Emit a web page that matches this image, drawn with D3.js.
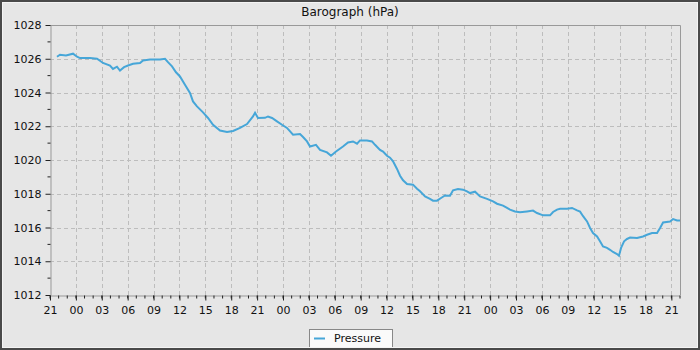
<!DOCTYPE html>
<html><head><meta charset="utf-8">
<script src="https://cdn.jsdelivr.net/npm/d3@7"></script>
<style>html,body{margin:0;padding:0;background:#fff}svg{display:block}</style>
</head><body>
<script>
// Data: hours since the first tick (21:00 of day 0) and pressure in hPa
const startTime = new Date(2024, 0, 1, 21, 0, 0);
const spanHours = 73;
const hoursFromStart = [0.81,1.16,1.85,2.67,3.13,3.48,4.64,5.45,5.79,6.14,6.95,7.30,7.76,8.11,8.58,9.04,9.62,10.43,10.78,11.59,12.17,12.75,13.33,13.67,14.14,14.60,15.06,15.64,16.22,16.57,17.03,17.73,18.31,18.89,19.70,20.51,21.21,22.02,22.83,23.52,23.76,24.10,24.91,25.26,25.73,26.30,26.88,27.46,28.16,28.97,29.32,29.78,30.13,30.82,31.29,32.10,32.56,33.14,33.95,34.53,35.11,35.58,35.92,36.73,37.31,37.66,38.24,38.59,39.05,39.40,39.75,40.21,40.56,40.91,41.37,42.06,42.53,42.88,43.46,44.03,44.38,44.84,45.31,45.77,46.35,46.70,47.28,47.86,48.32,48.67,49.25,49.83,50.64,51.34,51.80,52.49,52.96,53.30,53.88,54.46,55.27,55.97,56.43,57.13,57.94,58.29,58.75,59.10,59.91,60.49,61.07,61.42,61.77,62.23,62.58,62.92,63.39,63.73,64.08,64.54,64.89,65.24,65.70,65.93,66.17,66.52,66.86,67.21,68.02,68.72,69.18,69.76,70.34,70.69,71.04,71.85,72.20,72.66,73.0];
const pressure = [1026.12,1026.24,1026.2,1026.3,1026.12,1026.04,1026.04,1026.0,1025.88,1025.75,1025.6,1025.4,1025.53,1025.3,1025.5,1025.6,1025.7,1025.75,1025.9,1025.96,1025.95,1025.95,1026.0,1025.8,1025.55,1025.2,1024.95,1024.46,1023.97,1023.47,1023.18,1022.82,1022.49,1022.09,1021.75,1021.66,1021.72,1021.9,1022.13,1022.58,1022.8,1022.49,1022.5,1022.58,1022.49,1022.29,1022.09,1021.9,1021.5,1021.54,1021.36,1021.1,1020.8,1020.9,1020.6,1020.45,1020.25,1020.5,1020.8,1021.04,1021.1,1020.97,1021.16,1021.16,1021.1,1020.9,1020.6,1020.5,1020.25,1020.14,1019.92,1019.47,1019.07,1018.8,1018.58,1018.54,1018.3,1018.15,1017.84,1017.7,1017.59,1017.59,1017.75,1017.9,1017.88,1018.2,1018.28,1018.24,1018.14,1018.04,1018.12,1017.84,1017.7,1017.55,1017.41,1017.3,1017.16,1017.06,1016.95,1016.9,1016.95,1017.0,1016.86,1016.72,1016.72,1016.92,1017.06,1017.11,1017.11,1017.16,1017.01,1016.94,1016.67,1016.36,1015.97,1015.67,1015.47,1015.18,1014.88,1014.79,1014.68,1014.55,1014.43,1014.33,1014.79,1015.18,1015.32,1015.4,1015.38,1015.47,1015.57,1015.67,1015.67,1015.97,1016.3,1016.36,1016.5,1016.42,1016.42];
const yTicks = [1012,1014,1016,1018,1020,1022,1024,1026,1028];
const yMinorTicks = [1013,1015,1017,1019,1021,1023,1025,1027];
const titleText = "Barograph (hPa)";
const seriesName = "Pressure";

const W = 700, H = 350;
const m = {left: 50, right: 20, top: 25, bottom: 55};
const color = "#46a6d8";
const font = "DejaVu Sans, sans-serif";

const data = hoursFromStart.map((h, i) => ({t: new Date(startTime.getTime() + h * 3600e3), p: pressure[i]}));
const endTime = new Date(startTime.getTime() + spanHours * 3600e3);

const svg = d3.select("body").append("svg").attr("width", W).attr("height", H);
svg.append("rect").attr("width", W).attr("height", H).attr("fill", "#e6e6e6");

const x = d3.scaleTime().domain([startTime, endTime]).range([m.left, W - m.right]);
const y = d3.scaleLinear().domain([1012, 1028]).range([H - m.bottom, m.top]);

const majorX = d3.timeHour.every(3).range(startTime, new Date(endTime.getTime() + 1));
const minorX = d3.timeHour.every(1).range(startTime, new Date(endTime.getTime() + 1));

// grid
const grid = svg.append("g").attr("stroke", "#bdbdbd").attr("stroke-dasharray", "4,3").attr("stroke-width", 1);
grid.selectAll(".gx").data(majorX.slice(1)).join("line")
  .attr("x1", d => Math.round(x(d)) + 0.5).attr("x2", d => Math.round(x(d)) + 0.5)
  .attr("y1", m.top).attr("y2", H - m.bottom);
grid.selectAll(".gy").data(yTicks.slice(1, -1).concat([1028])).join("line")
  .attr("y1", d => Math.round(y(d)) + 0.5).attr("y2", d => Math.round(y(d)) + 0.5)
  .attr("x1", m.left).attr("x2", W - m.right);

// plot frame (top & right)
svg.append("path").attr("fill", "none").attr("stroke", "#999")
  .attr("d", `M${m.left},${m.top + 0.5}H${W - m.right + 0.5}V${H - m.bottom}`);

// axes
const xAxis = d3.axisBottom(x).tickValues(majorX).tickFormat(d3.timeFormat("%H")).tickSizeInner(5).tickSizeOuter(0).tickPadding(4);
const gx = svg.append("g").attr("transform", `translate(0,${Math.round(y(1012)) + 0.5})`).call(xAxis);
gx.append("g").selectAll("line").data(minorX).join("line")
  .attr("x1", d => x(d)).attr("x2", d => x(d)).attr("y1", 0).attr("y2", 3).attr("stroke", "#222");
const yAxis = d3.axisLeft(y).tickValues(yTicks).tickFormat(d3.format("d")).tickSizeInner(5).tickSizeOuter(0).tickPadding(4);
const gy = svg.append("g").attr("transform", `translate(${m.left + 0.5},0)`).call(yAxis);
gy.append("g").selectAll("line").data(yMinorTicks).join("line")
  .attr("y1", d => y(d)).attr("y2", d => y(d)).attr("x1", 0).attr("x2", -3).attr("stroke", "#222");
[gx, gy].forEach(g => {
  g.select(".domain").attr("stroke", "#999");
  g.selectAll(".tick line").attr("stroke", "#222");
  g.selectAll("text").attr("font-family", font).attr("font-size", 11).attr("fill", "#111");
});
gx.selectAll(".tick text").attr("dy", "0.9em");

// line
const line = d3.line().x(d => x(d.t)).y(d => y(d.p)).curve(d3.curveLinear);
svg.append("path").datum(data).attr("fill", "none").attr("stroke", color).attr("stroke-width", 2).attr("d", line);

// title
svg.append("text").attr("x", W / 2).attr("y", 16).attr("text-anchor", "middle")
  .attr("font-family", font).attr("font-size", 12).attr("fill", "#111").text(titleText);

// legend
const lg = svg.append("g");
lg.append("rect").attr("x", 309.5).attr("y", 329.5).attr("width", 83).attr("height", 20)
  .attr("fill", "#fafafa").attr("stroke", "#888");
lg.append("line").attr("x1", 314).attr("x2", 325).attr("y1", 338.5).attr("y2", 338.5).attr("stroke", color).attr("stroke-width", 2);
lg.append("text").attr("x", 334).attr("y", 342).attr("font-family", font).attr("font-size", 11).attr("fill", "#111").text(seriesName);

// outer frame
svg.append("rect").attr("x", 2.5).attr("y", 2.5).attr("width", W - 5).attr("height", H - 5)
  .attr("fill", "none").attr("stroke", "#f4f4f4").attr("stroke-width", 1);
svg.append("rect").attr("x", 1).attr("y", 1).attr("width", W - 2).attr("height", H - 2)
  .attr("fill", "none").attr("stroke", "#4a4a4a").attr("stroke-width", 2);
</script>
</body></html>
